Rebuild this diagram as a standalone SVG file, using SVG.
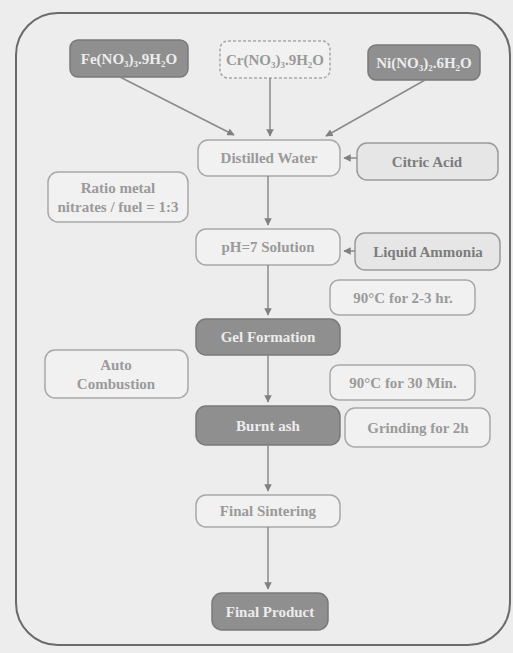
<svg xmlns="http://www.w3.org/2000/svg" width="513" height="653" viewBox="0 0 513 653">
<defs>
<marker id="ah" viewBox="0 0 10 10" refX="9" refY="5" markerWidth="5" markerHeight="5" orient="auto-start-reverse">
<path d="M0,0 L10,5 L0,10 z" fill="#808080"/>
</marker>
<style>
.bg{fill:#ededed}
.frame{fill:none;stroke:#6a6a6a;stroke-width:2}
.dark rect{fill:#8f8f8f;stroke:#7a7a7a;stroke-width:1.5}
.light rect{fill:#f1f1f1;stroke:#a8a8a8;stroke-width:1.5}
.side rect{fill:#e6e6e6;stroke:#9a9a9a;stroke-width:1.5}
text{font-family:"Liberation Serif","DejaVu Serif",serif;font-weight:bold;font-size:15px;text-anchor:middle}
.dark text{fill:#ececec}
.light text{fill:#9a9a9a}
.side text{fill:#7c7c7c}
.conn line{stroke:#8a8a8a;stroke-width:1.5;marker-end:url(#ah)}
</style>
</defs>
<rect class="bg" x="0" y="0" width="513" height="653"/>
<rect class="frame" x="16" y="13" width="494" height="632" rx="42"/>

<g id="n_left" class="dark"><rect x="70" y="40" width="118" height="37" rx="8"/><text x="129" y="64" font-size="14">Fe(NO₃)₃.9H₂O</text></g>
<g id="n_cr" class="light"><rect x="220" y="41" width="110" height="37" rx="8" stroke-dasharray="3 2"/><text x="275" y="65" font-size="14" fill="#808080">Cr(NO₃)₃.9H₂O</text></g>
<g id="n_right" class="dark"><rect x="368" y="45" width="112" height="35" rx="8"/><text x="424" y="68" font-size="14">Ni(NO₃)₂.6H₂O</text></g>

<g id="n_water" class="light"><rect x="198" y="140" width="142" height="36" rx="10"/><text x="269" y="163">Distilled Water</text></g>
<g id="n_citric" class="side"><rect x="357" y="143" width="141" height="37" rx="10"/><text x="427" y="167">Citric Acid</text></g>
<g id="n_ratio" class="light"><rect x="48" y="172" width="140" height="50" rx="10"/><text x="118" y="193" fill="#8a8a8a">Ratio metal</text><text x="118" y="212" fill="#8a8a8a">nitrates / fuel = 1:3</text></g>

<g id="n_sol" class="light"><rect x="196" y="229" width="144" height="36" rx="10"/><text x="268" y="252">pH=7 Solution</text></g>
<g id="n_ammonia" class="side"><rect x="355" y="233" width="145" height="37" rx="10"/><text x="428" y="257">Liquid Ammonia</text></g>
<g id="n_90a" class="light"><rect x="330" y="280" width="145" height="35" rx="9"/><text x="403" y="303" fill="#7c7c7c">90°C for 2-3 hr.</text></g>

<g id="n_gel" class="dark"><rect x="196" y="319" width="144" height="36" rx="10"/><text x="268" y="342">Gel Formation</text></g>
<g id="n_auto" class="light"><rect x="45" y="350" width="143" height="48" rx="10"/><text x="116" y="370">Auto</text><text x="116" y="389">Combustion</text></g>
<g id="n_90b" class="light"><rect x="330" y="365" width="145" height="35" rx="9"/><text x="403" y="388" fill="#7c7c7c">90°C for 30 Min.</text></g>

<g id="n_ash" class="dark"><rect x="196" y="406" width="144" height="39" rx="10"/><text x="268" y="431">Burnt ash</text></g>
<g id="n_grind" class="light"><rect x="345" y="408" width="145" height="39" rx="10"/><text x="418" y="433" fill="#8a8a8a">Grinding for 2h</text></g>

<g id="n_sinter" class="light"><rect x="196" y="495" width="144" height="32" rx="10"/><text x="268" y="516" fill="#8a8a8a">Final Sintering</text></g>
<g id="n_product" class="dark"><rect x="212" y="593" width="116" height="37" rx="10"/><text x="270" y="617">Final Product</text></g>

<g id="connectors" class="conn">
<line x1="120" y1="77" x2="234" y2="135"/>
<line x1="270" y1="78" x2="270" y2="136"/>
<line x1="425" y1="80" x2="326" y2="136"/>
<line x1="357" y1="158" x2="344" y2="158"/>
<line x1="268" y1="176" x2="268" y2="225"/>
<line x1="355" y1="251" x2="344" y2="251"/>
<line x1="268" y1="265" x2="268" y2="315"/>
<line x1="268" y1="355" x2="268" y2="402"/>
<line x1="268" y1="445" x2="268" y2="491"/>
<line x1="268" y1="527" x2="268" y2="589"/>
</g>
</svg>
